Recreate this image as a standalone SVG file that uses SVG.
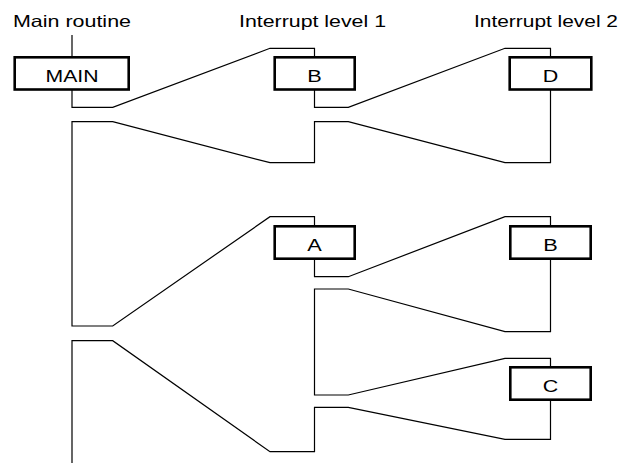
<svg xmlns="http://www.w3.org/2000/svg" width="624" height="463" viewBox="0 0 624 463">
<style>
.bg{fill:#ffffff}
.box{fill:#ffffff;stroke:#000000;stroke-width:2.6}
.lbl{font-family:"Liberation Sans",Arial,sans-serif;font-size:16.5px;fill:#000000}
.nl{font-family:"Liberation Sans",Arial,sans-serif;font-size:17px;fill:#000000;text-anchor:middle}
.ln{fill:none;stroke:#000000;stroke-width:1.2;stroke-linejoin:miter}
</style>
<rect class="bg" x="0" y="0" width="624" height="463"/>
<g id="headers">
<text class="lbl" x="13" y="27" textLength="118" lengthAdjust="spacingAndGlyphs">Main routine</text>
<text class="lbl" x="239" y="27" textLength="147" lengthAdjust="spacingAndGlyphs">Interrupt level 1</text>
<text class="lbl" x="474" y="27" textLength="144" lengthAdjust="spacingAndGlyphs">Interrupt level 2</text>
</g>
<g id="connectors">
<path class="ln" d="M72,35 V57"/>
<path class="ln" d="M72,90 V107.3 H112.7 L270,48.3 H314.5 V57"/>
<path class="ln" d="M314.5,90 V107.3 H348.3 L505,48.3 H550.5 V57"/>
<path class="ln" d="M550.5,90 V162.7 H505 L348.3,121.7 H314.5 V162.7 H270 L112.7,121.7 H72 V326 H112.7 L270,216.7 H314.5 V226"/>
<path class="ln" d="M314.5,259 V276.7 H348.3 L505,216.7 H550.5 V226"/>
<path class="ln" d="M550.5,259 V331.7 H505 L348.3,289 H314.5 V395 H348.3 L505,358.3 H550.5 V367"/>
<path class="ln" d="M550.5,400 V439.3 H505 L348.3,407.3 H314.5 V451.7 H270 L112.7,340.7 H72 V463"/>
</g>
<g id="node-main">
<rect class="box" x="14.7" y="57.3" width="114" height="32.2"/>
<text class="nl" x="72" y="81.5" textLength="53" lengthAdjust="spacingAndGlyphs">MAIN</text>
</g>
<g id="node-b1">
<rect class="box" x="274.7" y="57.3" width="80" height="32.2"/>
<text class="nl" x="314.5" y="81.5" textLength="14.5" lengthAdjust="spacingAndGlyphs">B</text>
</g>
<g id="node-d">
<rect class="box" x="509.7" y="57.3" width="81.6" height="32.2"/>
<text class="nl" x="550.5" y="81.5" textLength="15.5" lengthAdjust="spacingAndGlyphs">D</text>
</g>
<g id="node-a">
<rect class="box" x="274.7" y="226.3" width="80" height="32.4"/>
<text class="nl" x="314.5" y="250.5" textLength="14.5" lengthAdjust="spacingAndGlyphs">A</text>
</g>
<g id="node-b2">
<rect class="box" x="510.3" y="226.3" width="80.4" height="32.4"/>
<text class="nl" x="550.5" y="250.5" textLength="14.5" lengthAdjust="spacingAndGlyphs">B</text>
</g>
<g id="node-c">
<rect class="box" x="510.3" y="367.3" width="80.4" height="32.4"/>
<text class="nl" x="550.5" y="391.5" textLength="15.5" lengthAdjust="spacingAndGlyphs">C</text>
</g>
</svg>
